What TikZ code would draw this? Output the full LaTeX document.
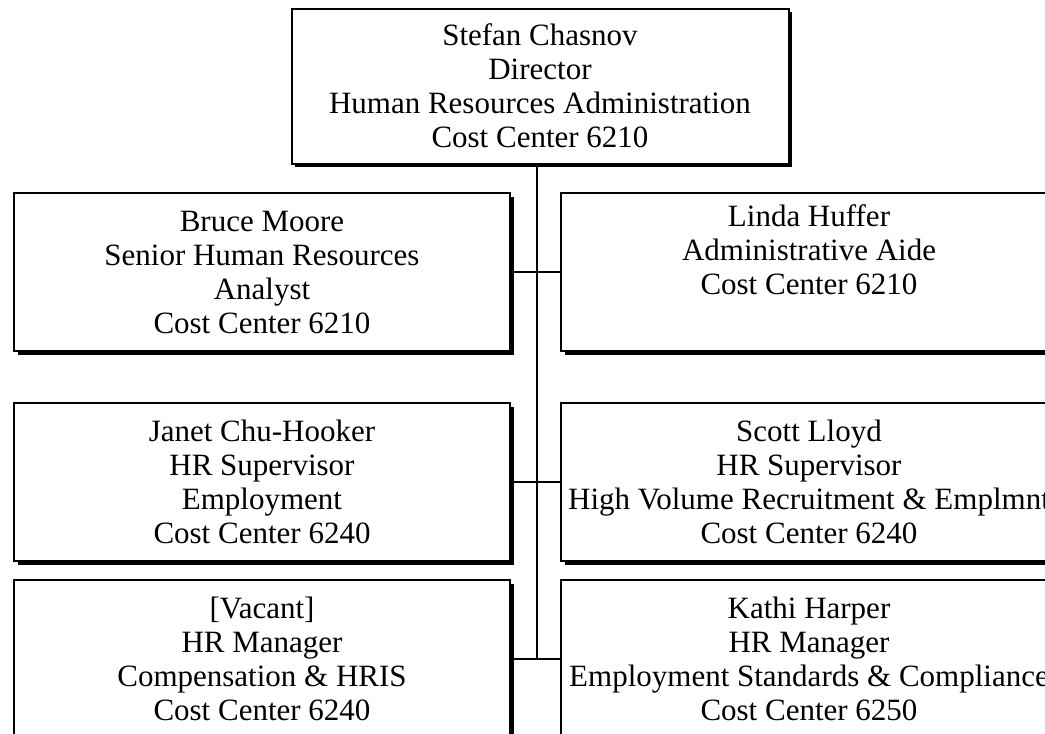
\documentclass[tikz,border=0pt]{standalone}
\usepackage{fontspec}
\setmainfont{Liberation Serif}
\usetikzlibrary{shadows}
\begin{document}
\begin{tikzpicture}[x=1pt,y=-1pt,
  person/.style={draw, line width=2pt, fill=white, minimum width=496pt,
    minimum height=158pt, inner sep=0pt, align=center,
    font=\fontsize{31}{34}\selectfont,
    drop shadow={shadow xshift=3.5pt, shadow yshift=-3.5pt, fill=black, opacity=1}},
  link/.style={line width=1.8pt}]
\useasboundingbox (0,0) rectangle (1045,734);
\clip (0,0) rectangle (1045,734);
\node[person, minimum width=497pt, minimum height=155pt] (chasnov) at (540,86)
  {Stefan Chasnov\\Director\\Human Resources Administration\\Cost Center 6210};
\node[person] (moore) at (262,272)
  {Bruce Moore\\Senior Human Resources\\Analyst\\Cost Center 6210};
\node[person] (huffer) at (809,272)
  {Linda Huffer\\Administrative Aide\\Cost Center 6210\\\strut};
\node[person] (chuhooker) at (262,482)
  {Janet Chu-Hooker\\HR Supervisor\\Employment\\Cost Center 6240};
\node[person] (lloyd) at (809,482)
  {Scott Lloyd\\HR Supervisor\\High Volume Recruitment \& Emplmnt\\Cost Center 6240};
\node[person] (vacant) at (262,659)
  {[Vacant]\\HR Manager\\Compensation \& HRIS\\Cost Center 6240};
\node[person] (harper) at (809,659)
  {Kathi Harper\\HR Manager\\Employment Standards \& Compliance\\Cost Center 6250};
\coordinate (spine) at (537,0);
\draw[link] (chasnov.south -| spine) -- (spine |- vacant.east);
\draw[link] (moore.east) -- (huffer.west);
\draw[link] (chuhooker.east) -- (lloyd.west);
\draw[link] (vacant.east) -- (harper.west);
\end{tikzpicture}
\end{document}
